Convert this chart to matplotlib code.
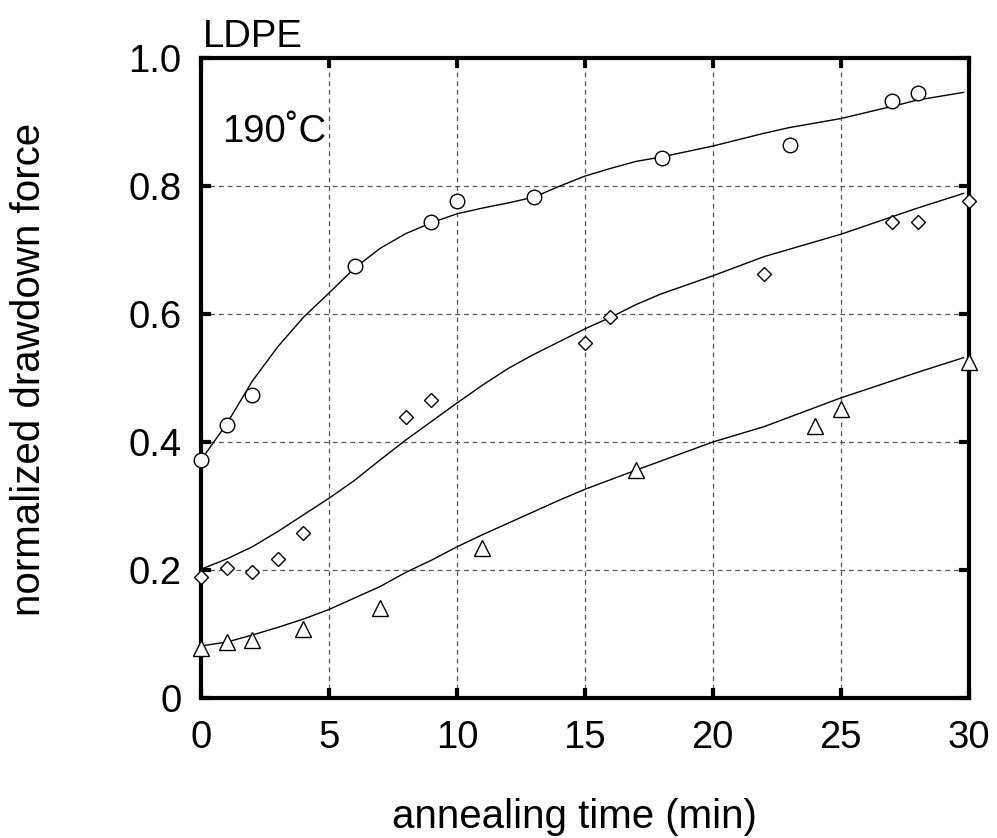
import matplotlib
matplotlib.use("Agg")
import matplotlib.pyplot as plt

plt.rcParams['font.family'] = ['Liberation Sans', 'DejaVu Sans']

# measured data
t_circle = [0, 1, 2, 6, 9, 10, 13, 18, 23, 27, 28]
f_circle = [0.372, 0.426, 0.473, 0.676, 0.744, 0.777, 0.784, 0.845, 0.864, 0.933, 0.946]

t_diamond = [0, 1, 2, 3, 4, 8, 9, 15, 16, 22, 27, 28, 30]
f_diamond = [0.189, 0.203, 0.196, 0.217, 0.258, 0.439, 0.466, 0.555, 0.595, 0.663, 0.744, 0.744, 0.777]

t_triangle = [0, 1, 2, 4, 7, 11, 17, 24, 25, 30]
f_triangle = [0.078, 0.087, 0.090, 0.107, 0.140, 0.235, 0.357, 0.425, 0.452, 0.525]

# fitted curves
tc_circle = [0, 1, 2, 3, 4, 5, 6, 7, 8, 9, 10, 11, 12, 13, 14, 15, 16, 17, 18, 20, 22, 23, 25, 27, 28, 29.8]
fc_circle = [0.372, 0.428, 0.495, 0.549, 0.595, 0.633, 0.672, 0.703, 0.726, 0.743, 0.757, 0.766,
             0.774, 0.783, 0.800, 0.816, 0.828, 0.839, 0.846, 0.863, 0.883, 0.892, 0.906, 0.925,
             0.935, 0.947]

tc_diamond = [0, 1, 2, 3, 4, 5, 6, 7, 8, 9, 10, 11, 12, 13, 14, 15, 16, 17, 18, 20, 22, 25, 28, 29.8]
fc_diamond = [0.201, 0.217, 0.236, 0.26, 0.286, 0.312, 0.34, 0.372, 0.403, 0.432, 0.461, 0.489,
              0.515, 0.537, 0.557, 0.577, 0.595, 0.615, 0.632, 0.66, 0.69, 0.725, 0.766, 0.789]

tc_triangle = [0, 1, 2, 3, 4, 5, 6, 7, 8, 9, 10, 11, 12, 13, 14, 15, 17, 20, 22, 25, 28, 29.8]
fc_triangle = [0.081, 0.087, 0.098, 0.11, 0.123, 0.138, 0.156, 0.174, 0.196, 0.215, 0.236, 0.255,
               0.273, 0.291, 0.309, 0.326, 0.356, 0.40, 0.424, 0.469, 0.509, 0.532]

x_ticks = [0, 5, 10, 15, 20, 25, 30]
y_ticks = [0, 0.2, 0.4, 0.6, 0.8, 1.0]
y_ticklabels = ['0', '0.2', '0.4', '0.6', '0.8', '1.0']

fig = plt.figure(figsize=(9.97, 8.38), dpi=100)
ax = fig.add_axes([0.2016, 0.1674, 0.7700, 0.7628])

for tc, fc in [(tc_circle, fc_circle), (tc_diamond, fc_diamond), (tc_triangle, fc_triangle)]:
    ax.plot(tc, fc, color='black', lw=1.0, zorder=3)

ax.plot(t_circle, f_circle, ls='none', marker='o', ms=10.5, mfc='white', mec='black', mew=1.0,
        zorder=4, clip_on=False)
ax.plot(t_diamond, f_diamond, ls='none', marker='D', ms=7.5, mfc='white', mec='black', mew=1.0,
        zorder=4, clip_on=False)
ax.plot(t_triangle, f_triangle, ls='none', marker='^', ms=11, mfc='white', mec='black', mew=1.0,
        zorder=4, clip_on=False)

ax.set_xlim(0, 30)
ax.set_ylim(0, 1.0)
ax.set_xticks(x_ticks)
ax.set_yticks(y_ticks)
ax.set_yticklabels(y_ticklabels)
ax.tick_params(direction='in', length=7, width=3, labelsize=27.5, pad=14,
               top=True, right=True)
ax.tick_params(axis='x', pad=16)
for s in ax.spines.values():
    s.set_linewidth(3)
ax.grid(True, ls=(0, (3.8, 3.2)), color='#555555', lw=0.9)
ax.set_axisbelow(True)

ax.set_xlabel('annealing time (min)', fontsize=29, labelpad=30)
ax.set_ylabel('normalized drawdown force', fontsize=29, labelpad=58)
ax.xaxis.label.set_x(0.487)
ax.yaxis.label.set_y(0.513)

ax.text(0.003, 1.018, 'LDPE', transform=ax.transAxes, fontsize=27.5, va='baseline', ha='left')
ax.text(0.027, 0.870, '190˚C', transform=ax.transAxes, fontsize=27.5, va='baseline', ha='left')

fig.savefig('out.png', dpi=100)
